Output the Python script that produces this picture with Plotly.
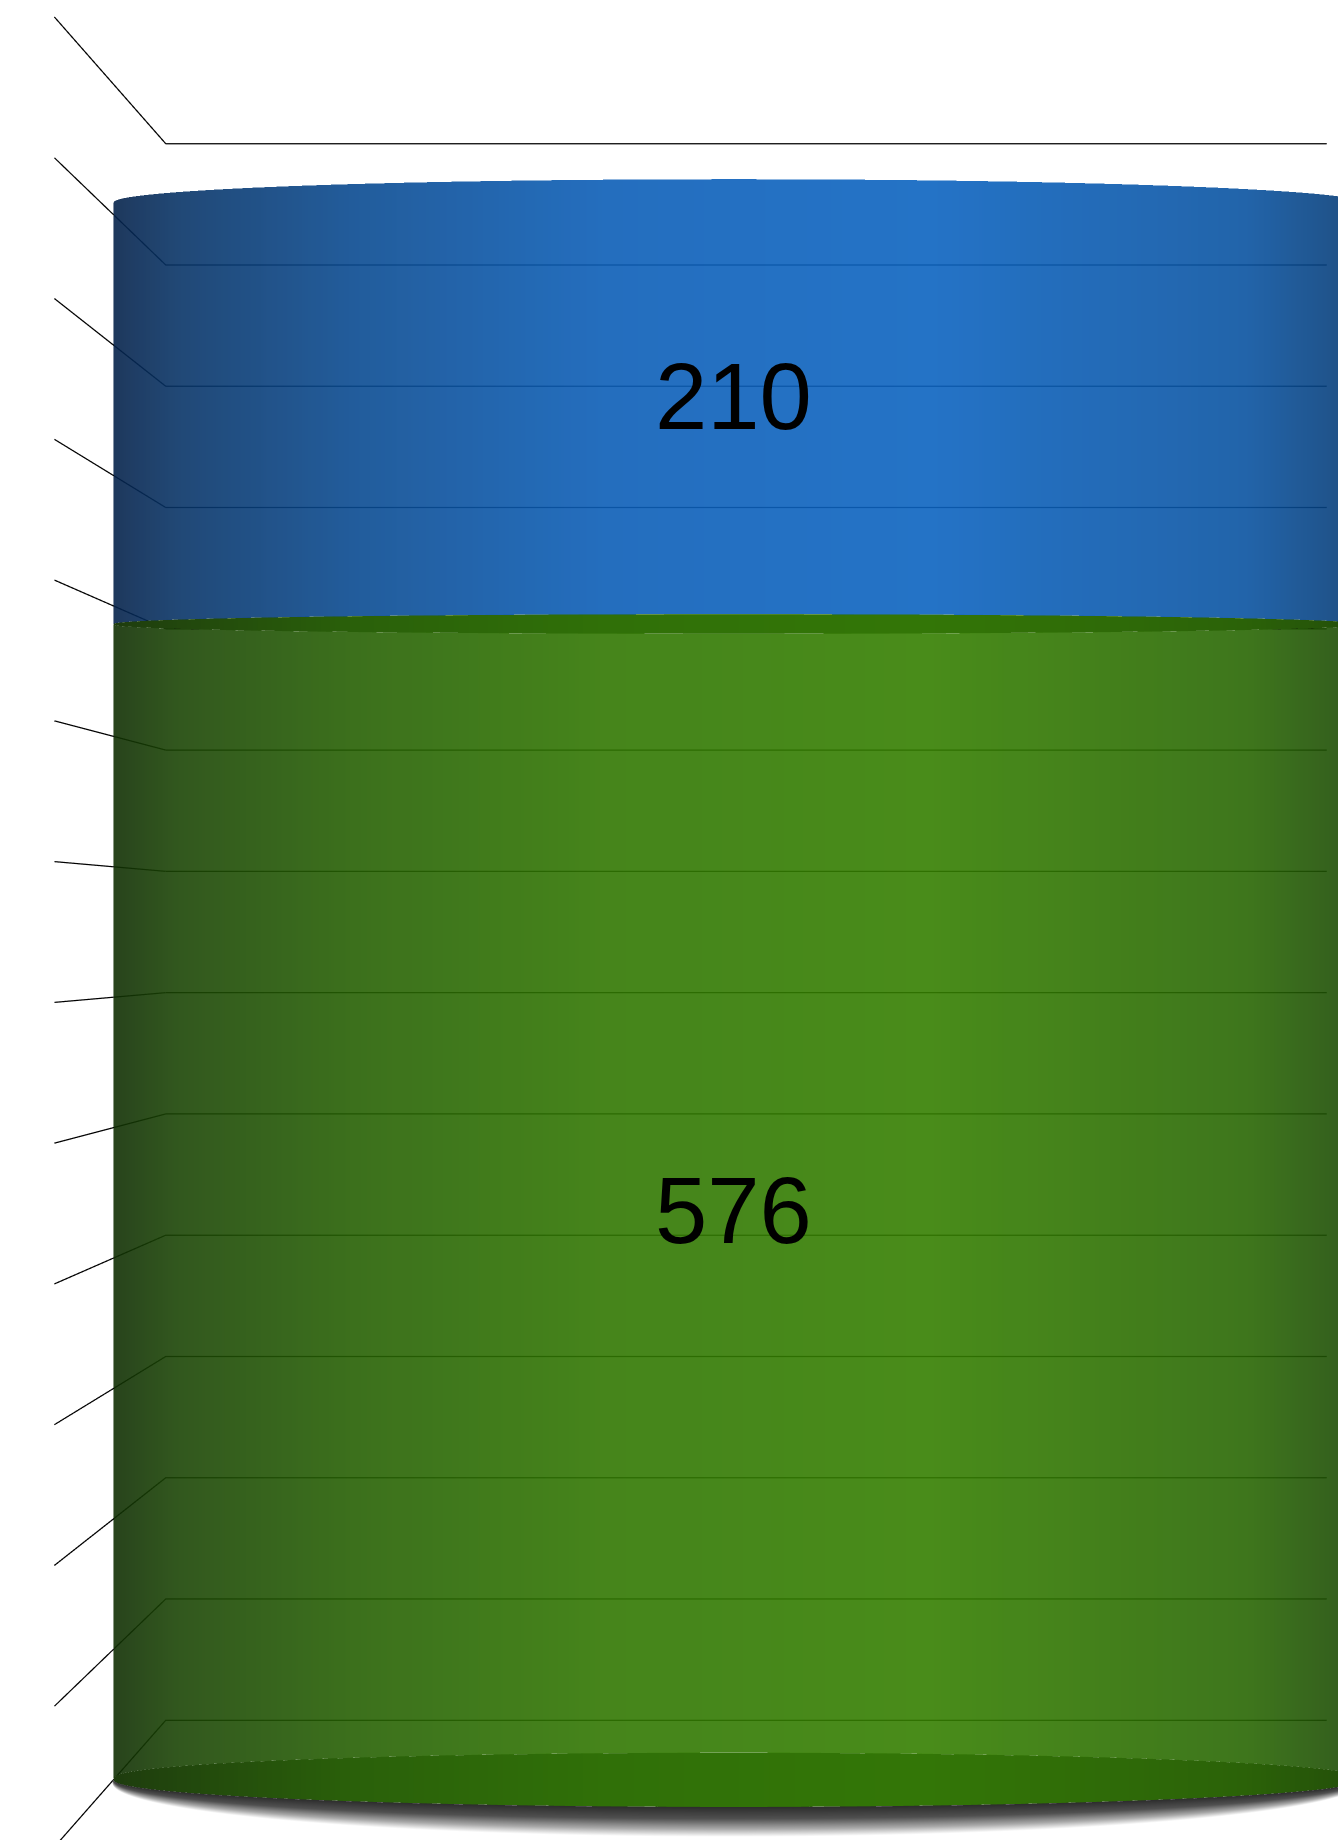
import numpy as np
import plotly.graph_objects as go

# ---------------- data ----------------
segment_names = ["Segment A", "Segment B"]
segment_values = [576, 210]
value_labels = ["576", "210"]
z_tickvals = [0, 65, 130, 195, 260, 325, 390, 455, 520, 585, 650, 715, 780, 845]

# ---------------- style / geometry ----------------
Z_RANGE = [0, 845]
X_RANGE = [-1, 1]
Y_RANGE = [-1, 1]
RX, RY = 1.0, 0.43          # elliptical cylinder radii (data units)
ASPECT = dict(x=0.7364, y=0.1977, z=1.0)
EYE = dict(x=0.0712, y=-1.3283, z=0.0)
CENTER = dict(x=0.0712, y=0.0, z=0.0)
FIG_W, FIG_H = 1717, 1864
OPACITY = 0.9
GRID_COLOR = "rgb(0,0,0)"
GRID_WIDTH = 2.5


def src(rgb):
    # colour that, drawn at OPACITY over white, gives the observed rgb
    return tuple(int(max(0, min(255, round((c - 255 * (1 - OPACITY)) / OPACITY)))) for c in rgb)


def scale(stops, blend=True):
    return [[p, "rgb(%d,%d,%d)" % (src(c) if blend else c)] for p, c in stops]


BLUE = scale([(0.0, (30, 56, 92)), (0.06, (33, 72, 118)), (0.2, (34, 92, 155)),
              (0.4, (36, 110, 190)), (0.65, (36, 115, 198)), (0.9, (34, 100, 170)),
              (1.0, (31, 78, 128))])
GREEN = scale([(0.0, (40, 68, 28)), (0.06, (50, 88, 30)), (0.2, (60, 112, 28)),
               (0.4, (70, 133, 27)), (0.65, (73, 140, 26)), (0.9, (62, 118, 28)),
               (1.0, (50, 90, 30))])
GREEN_CAP = scale([(0.0, (30, 60, 14)), (0.2, (42, 96, 10)), (0.4, (48, 112, 8)),
                   (0.65, (51, 118, 7)), (0.9, (43, 98, 8)), (1.0, (35, 78, 10))], blend=False)
SEG_SCALES = [GREEN, BLUE]
SHADOW = [[0, "rgb(45,45,45)"], [0.4, "rgb(80,80,80)"], [0.75, "rgb(170,170,170)"], [1, "rgb(255,255,255)"]]

LIGHT = dict(ambient=1.0, diffuse=0.0, specular=0.0, roughness=1.0, fresnel=0.0)
NOCONT = dict(x=dict(highlight=False), y=dict(highlight=False), z=dict(highlight=False))

theta = np.linspace(np.pi, 2 * np.pi, 241)
xs = RX * np.cos(theta)
ys = RY * np.sin(theta)
shade = (np.cos(theta) + 1) / 2

# depth of front / back rim points (normalised scene units) for the visible cap ellipses
y_norm = ys * ASPECT["y"] / 2
d_front = y_norm - EYE["y"]
d_back = -y_norm - EYE["y"]
ratio = d_front / d_back
z_eye = (Z_RANGE[0] + Z_RANGE[1]) / 2


def wall(z0, z1, cs, opacity=OPACITY):
    t = np.array([0.0, 1.0])[:, None]
    Z = z0[None, :] + t * (z1 - z0)[None, :]
    X = np.broadcast_to(xs, Z.shape)
    Y = np.broadcast_to(ys, Z.shape)
    C = np.broadcast_to(shade, Z.shape)
    return go.Surface(x=X, y=Y, z=Z, surfacecolor=C, colorscale=cs, cmin=0, cmax=1,
                      showscale=False, opacity=opacity, lighting=LIGHT,
                      hoverinfo="skip", contours=NOCONT)


def floor_shadow(yscale, cs):
    t = np.linspace(0.0, 1.0, 8)[:, None]
    r = 1 + t * (yscale - 1)
    X = np.broadcast_to(xs, (t.size, xs.size))
    Y = ys[None, :] * r
    Z = np.zeros_like(Y) + Z_RANGE[0]
    C = np.broadcast_to(t, (t.size, xs.size))
    return go.Surface(x=X, y=Y, z=Z, surfacecolor=C, colorscale=cs, cmin=0, cmax=1,
                      showscale=False, opacity=1.0, lighting=LIGHT,
                      hoverinfo="skip", contours=NOCONT)


fig = go.Figure()

# z gridlines on the left wall and the back wall (from the tick values and axis ranges)
gx, gy, gz = [], [], []
for zv in z_tickvals:
    gx += [X_RANGE[0], X_RANGE[0], X_RANGE[1], None]
    gy += [Y_RANGE[0], Y_RANGE[1], Y_RANGE[1], None]
    gz += [zv, zv, zv, None]
fig.add_trace(go.Scatter3d(x=gx, y=gy, z=gz, mode="lines",
                           line=dict(color=GRID_COLOR, width=GRID_WIDTH),
                           hoverinfo="skip", showlegend=False))

ones = np.ones_like(theta)
bottoms = np.cumsum([0] + segment_values[:-1])
tops = np.cumsum(segment_values)

# shadow on the floor in front of the cylinder
fig.add_trace(floor_shadow(2.0, SHADOW))

for i, (b, tp) in enumerate(zip(bottoms, tops)):
    if i == 0:
        zb = z_eye - (z_eye - b) * ratio          # visible base ellipse
        zt = z_eye + (tp - z_eye) * ratio         # visible top ellipse
        fig.add_trace(wall(b * ones, zb, GREEN_CAP, opacity=1.0))
        fig.add_trace(wall(zb, zt, SEG_SCALES[i]))
        fig.add_trace(wall(zt, tp * ones, GREEN_CAP, opacity=1.0))
    else:
        fig.add_trace(wall(b * ones, tp * ones, SEG_SCALES[i]))

annotations = []
for b, v, lab in zip(bottoms, segment_values, value_labels):
    annotations.append(dict(x=0, y=-RY, z=b + v / 2, text=lab, showarrow=False,
                            xanchor="center", yanchor="middle",
                            font=dict(family="Liberation Sans, Arial, sans-serif", size=94, color="black")))

hidden = dict(visible=False, showgrid=False, zeroline=False, showline=False,
              showticklabels=False, showspikes=False, showbackground=False, title=dict(text=""))

fig.update_layout(
    width=FIG_W, height=FIG_H,
    margin=dict(l=0, r=0, t=0, b=0, pad=0),
    paper_bgcolor="white", plot_bgcolor="white",
    showlegend=False,
    scene=dict(
        domain=dict(x=[0, 1], y=[0, 1]),
        bgcolor="white",
        hovermode=False,
        xaxis=dict(range=X_RANGE, **hidden),
        yaxis=dict(range=Y_RANGE, **hidden),
        zaxis=dict(range=Z_RANGE, tickmode="array", tickvals=z_tickvals, **hidden),
        aspectmode="manual", aspectratio=ASPECT,
        camera=dict(eye=EYE, center=CENTER, up=dict(x=0, y=0, z=1),
                    projection=dict(type="perspective")),
        annotations=annotations,
    ),
)

fig.write_html(
    "out.html",
    config={"displayModeBar": False, "responsive": False},
    post_script="document.body.style.margin='0';document.body.style.overflow='hidden';"
                "document.documentElement.style.overflow='hidden';",
)
